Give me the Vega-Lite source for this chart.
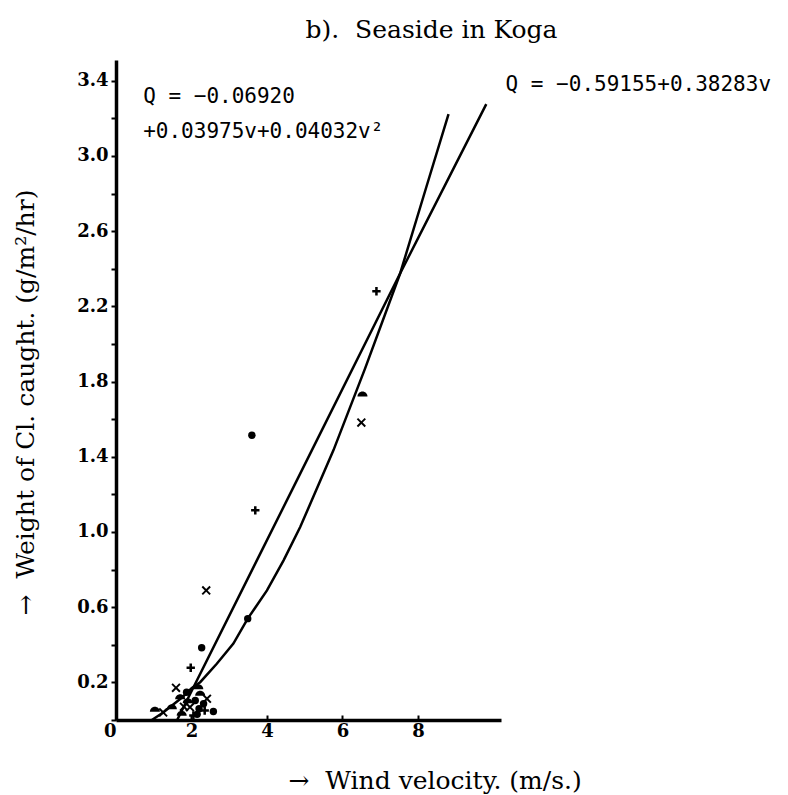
{
  "$schema": "https://vega.github.io/schema/vega-lite/v6.json",
  "autosize": {"type": "none"},
  "padding": {"left": 116, "top": 60, "right": 287, "bottom": 75},
  "width": 385,
  "height": 660,
  "background": "white",
  "title": {
    "text": "b).\u00a0\u00a0Seaside in Koga",
    "font": "DejaVu Serif",
    "fontSize": 25,
    "fontWeight": "normal",
    "color": "black",
    "anchor": "middle",
    "dx": 123,
    "offset": 17
  },
  "config": {
    "view": {"stroke": null},
    "axis": {"grid": false, "domainColor": "black", "tickColor": "black", "labelColor": "black", "titleColor": "black"}
  },
  "encoding": {
    "x": {
      "field": "v", "type": "quantitative",
      "scale": {"domain": [0, 10.2], "nice": false, "zero": false},
      "axis": {
        "values": [0, 2, 4, 6, 8],
        "format": "d",
        "domainWidth": 3.5,
        "tickSize": -5,
        "tickWidth": 2,
        "labelFont": "DejaVu Serif",
        "labelFontWeight": "bold",
        "labelFontSize": 18,
        "labelPadding": 7,
        "labelAlign": {"condition": {"test": "datum.value == 0", "value": "right"}, "value": "center"},
        "title": "→\u00a0\u00a0Wind velocity. (m/s.)",
        "titleFont": "DejaVu Serif",
        "titleFontSize": 25,
        "titleFontWeight": "normal",
        "titleAlign": "left",
        "titleBaseline": "middle",
        "titleX": 172,
        "titleY": 60
      }
    },
    "y": {
      "field": "q", "type": "quantitative",
      "scale": {"domain": [0, 3.51], "nice": false, "zero": false},
      "axis": {
        "values": [0, 0.2, 0.4, 0.6, 0.8, 1.0, 1.2, 1.4, 1.6, 1.8, 2.0, 2.2, 2.4, 2.6, 2.8, 3.0, 3.2, 3.4],
        "labelExpr": "(round(datum.value*10) % 4 == 2) ? format(datum.value, '.1f') : ''",
        "domainWidth": 3.5,
        "tickSize": 5,
        "tickWidth": 2,
        "labelFont": "DejaVu Serif",
        "labelFontWeight": "bold",
        "labelFontSize": 18,
        "labelPadding": 3,
        "title": "→\u00a0\u00a0Weight of Cl. caught. (g/m²/hr)",
        "titleFont": "DejaVu Serif",
        "titleFontSize": 25,
        "titleFontWeight": "normal",
        "titleAngle": -90,
        "titleAlign": "center",
        "titleBaseline": "middle",
        "titleX": -91,
        "titleY": 342
      }
    }
  },
  "layer": [
    {
      "data": {"values": [
        {"curve": "linear", "v": 1.62, "q": 0.0},
        {"curve": "linear", "v": 2.01, "q": 0.157},
        {"curve": "linear", "v": 4.88, "q": 1.31},
        {"curve": "linear", "v": 7.53, "q": 2.376},
        {"curve": "linear", "v": 9.81, "q": 3.275},
        {"curve": "quad", "v": 0.95, "q": 0.0},
        {"curve": "quad", "v": 1.25, "q": 0.04},
        {"curve": "quad", "v": 1.5, "q": 0.08},
        {"curve": "quad", "v": 1.75, "q": 0.12},
        {"curve": "quad", "v": 2.01, "q": 0.17},
        {"curve": "quad", "v": 2.23, "q": 0.201},
        {"curve": "quad", "v": 2.67, "q": 0.299},
        {"curve": "quad", "v": 3.11, "q": 0.406},
        {"curve": "quad", "v": 3.49, "q": 0.539},
        {"curve": "quad", "v": 4.0, "q": 0.689},
        {"curve": "quad", "v": 4.44, "q": 0.849},
        {"curve": "quad", "v": 4.88, "q": 1.026},
        {"curve": "quad", "v": 5.76, "q": 1.434},
        {"curve": "quad", "v": 6.6, "q": 1.87},
        {"curve": "quad", "v": 7.53, "q": 2.376},
        {"curve": "quad", "v": 8.2, "q": 2.82},
        {"curve": "quad", "v": 8.81, "q": 3.222}
      ]},
      "mark": {"type": "line", "color": "black", "strokeWidth": 2.5},
      "encoding": {"detail": {"field": "curve"}, "order": {"field": "v", "type": "quantitative"}}
    },
    {
      "data": {"values": [
        {"sym": "dot", "v": 3.60, "q": 1.514},
        {"sym": "plus", "v": 3.69, "q": 1.115},
        {"sym": "x", "v": 2.39, "q": 0.689},
        {"sym": "dot", "v": 2.27, "q": 0.384},
        {"sym": "plus", "v": 1.98, "q": 0.278},
        {"sym": "x", "v": 1.59, "q": 0.171},
        {"sym": "dot", "v": 2.58, "q": 0.045},
        {"sym": "dot", "v": 3.49, "q": 0.539},
        {"sym": "half", "v": 6.53, "q": 1.731},
        {"sym": "x", "v": 6.50, "q": 1.582},
        {"sym": "plus", "v": 6.90, "q": 2.28},
        {"sym": "half", "v": 1.03, "q": 0.054},
        {"sym": "x", "v": 1.25, "q": 0.04},
        {"sym": "half", "v": 1.48, "q": 0.068},
        {"sym": "half", "v": 1.70, "q": 0.121},
        {"sym": "dot", "v": 1.87, "q": 0.148},
        {"sym": "half", "v": 1.74, "q": 0.033},
        {"sym": "x", "v": 1.96, "q": 0.068},
        {"sym": "dot", "v": 2.10, "q": 0.104},
        {"sym": "half", "v": 2.23, "q": 0.139},
        {"sym": "dot", "v": 2.32, "q": 0.086},
        {"sym": "plus", "v": 2.05, "q": 0.024},
        {"sym": "x", "v": 2.41, "q": 0.113},
        {"sym": "half", "v": 2.18, "q": 0.174},
        {"sym": "dot", "v": 2.20, "q": 0.06},
        {"sym": "plus", "v": 2.35, "q": 0.05},
        {"sym": "half", "v": 1.90, "q": 0.10},
        {"sym": "dot", "v": 2.15, "q": 0.03},
        {"sym": "x", "v": 1.80, "q": 0.07}
      ]},
      "mark": {"type": "point", "filled": true, "color": "black", "opacity": 1},
      "encoding": {
        "shape": {
          "field": "sym", "type": "nominal", "legend": null,
          "scale": {
            "domain": ["dot", "plus", "x", "half"],
            "range": [
              "circle",
              "M-0.3,-1H0.3V-0.3H1V0.3H0.3V1H-0.3V0.3H-1V-0.3H-0.3Z",
              "M-1,-0.7L-0.7,-1L0,-0.3L0.7,-1L1,-0.7L0.3,0L1,0.7L0.7,1L0,0.3L-0.7,1L-1,0.7L-0.3,0Z",
              "M-1,0.4A1,1,0,0,1,1,0.4Z"
            ]
          }
        },
        "size": {
          "field": "sym", "type": "nominal", "legend": null,
          "scale": {"domain": ["dot", "plus", "x", "half"], "range": [55, 100, 90, 90]}
        }
      }
    },
    {
      "data": {"values": [
        {"v": 0.72, "q": 3.315, "label": "Q = −0.06920"},
        {"v": 0.72, "q": 3.128, "label": "+0.03975v+0.04032v²"},
        {"v": 10.32, "q": 3.377, "label": "Q = −0.59155+0.38283v"}
      ]},
      "mark": {"type": "text", "align": "left", "baseline": "middle", "font": "DejaVu Sans Mono", "fontSize": 21, "color": "black"},
      "encoding": {"text": {"field": "label"}}
    }
  ]
}
